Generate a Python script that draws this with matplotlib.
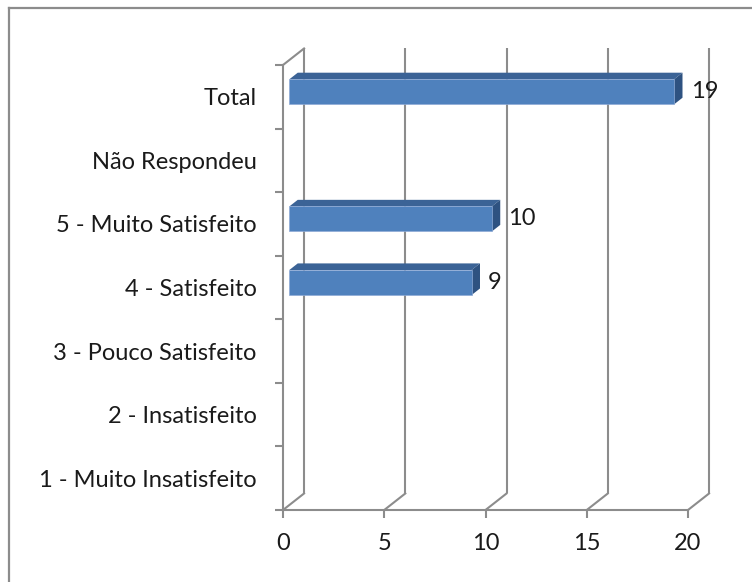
import matplotlib.pyplot as plt
from matplotlib.lines import Line2D
from matplotlib.patches import Polygon

# -----------------------------
# Data
# -----------------------------
categorias = ["1 - Muito Insatisfeito", "2 - Insatisfeito", "3 - Pouco Satisfeito",
              "4 - Satisfeito", "5 - Muito Satisfeito", "Não Respondeu", "Total"]
respostas = [0, 0, 0, 9, 10, 0, 19]
marcas_x = [0, 5, 10, 15, 20]

# -----------------------------
# 3D look: offsets of the back wall and bar depth (data units)
# -----------------------------
DX, DY = 1.04, 0.26
D0, D1 = 0.30, 0.70
MEIA = 0.197

CINZA = '#8c8c8c'
FRENTE = '#4f81bd'
TOPO = '#3b6396'
LADO = '#2e5281'

plt.rcParams['font.family'] = ['Lato', 'DejaVu Sans']
TAM = 17

fig = plt.figure(figsize=(7.52, 5.82), dpi=100)
ax = fig.add_axes([283 / 752, 72 / 582, 405 / 752, 445 / 582])
ax.set_xlim(0, 20)
ax.set_ylim(-0.5, len(categorias) - 0.5)
ax.patch.set_visible(False)

# outer frame of the chart area (only left and top edges fall inside the image)
fig.add_artist(Line2D([9 / 752, 9 / 752], [0, 1 - 8 / 582], color=CINZA, lw=1.6))
fig.add_artist(Line2D([9 / 752, 1], [1 - 8 / 582, 1 - 8 / 582], color=CINZA, lw=1.6))

topo = len(categorias) - 0.5
base = -0.5

# back wall gridlines and floor diagonals
for v in marcas_x:
    ax.plot([v + DX, v + DX], [base + DY, topo + DY], color=CINZA, lw=1.5,
            clip_on=False, zorder=1, solid_capstyle='butt')
    ax.plot([v, v + DX], [base, base + DY], color=CINZA, lw=1.5,
            clip_on=False, zorder=1)
# left wall top edge
ax.plot([0, DX], [topo, topo + DY], color=CINZA, lw=1.5, clip_on=False, zorder=1)

# bars
for i, v in enumerate(respostas):
    if v <= 0:
        continue
    x0 = D0 * DX
    x1 = v + D0 * DX
    yb = i - MEIA + D0 * DY
    yt = i + MEIA + D0 * DY
    ddx = (D1 - D0) * DX
    ddy = (D1 - D0) * DY
    ax.add_patch(Polygon([(x0, yt), (x1, yt), (x1 + ddx, yt + ddy), (x0 + ddx, yt + ddy)],
                         closed=True, facecolor=TOPO, edgecolor='none', zorder=3))
    ax.add_patch(Polygon([(x1, yb), (x1, yt), (x1 + ddx, yt + ddy), (x1 + ddx, yb + ddy)],
                         closed=True, facecolor=LADO, edgecolor='none', zorder=3))
    ax.add_patch(Polygon([(x0, yb), (x1, yb), (x1, yt), (x0, yt)],
                         closed=True, facecolor=FRENTE, edgecolor='#8eaad6',
                         lw=0.5, zorder=4))
    ax.text(x1 + ddx + 0.4, i + D0 * DY, str(v), fontsize=TAM,
            color='#1a1a1a', ha='left', va='center', clip_on=False)

# front axes lines
for lado in ['top', 'right']:
    ax.spines[lado].set_visible(False)
for lado in ['left', 'bottom']:
    ax.spines[lado].set_color(CINZA)
    ax.spines[lado].set_linewidth(1.5)
    ax.spines[lado].set_zorder(2)

ax.set_xticks(marcas_x)
ax.set_xticklabels([str(m) for m in marcas_x])
ax.tick_params(axis='x', which='major', direction='out', length=5.8, width=1.5,
               color=CINZA, labelsize=TAM, labelcolor='#1a1a1a', pad=11)

ax.set_yticks(range(len(categorias)))
ax.set_yticklabels(categorias)
ax.set_yticks([k - 0.5 for k in range(len(categorias) + 1)], minor=True)
ax.tick_params(axis='y', which='major', length=0, labelsize=TAM,
               labelcolor='#1a1a1a', pad=19)
ax.tick_params(axis='y', which='minor', direction='out', length=5.8, width=1.5,
               color=CINZA)

fig.savefig('out.png', dpi=100)
